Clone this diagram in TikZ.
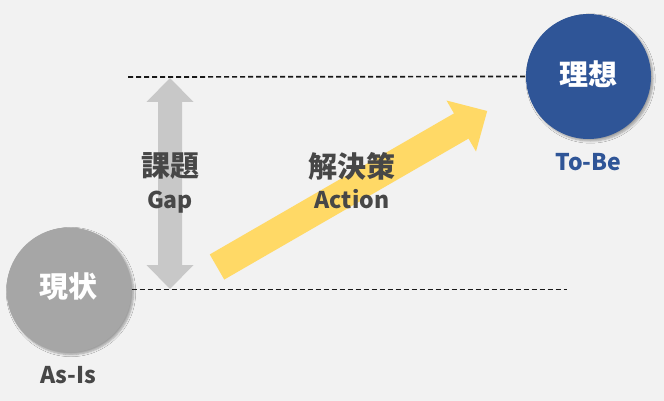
\documentclass[tikz,border=0pt]{standalone}
\usepackage{fontspec}
\setmainfont{Noto Sans CJK JP}
\usetikzlibrary{shadows.blur}
\definecolor{bgc}{HTML}{F2F2F2}
\definecolor{circgray}{HTML}{A6A6A6}
\definecolor{arrgray}{HTML}{C8C8C8}
\definecolor{yelc}{HTML}{FFD966}
\definecolor{bluec}{HTML}{2F5597}
\definecolor{txtc}{HTML}{474747}
\tikzset{
  statecirc/.style={circle, minimum size=125pt, inner sep=0pt, text=white,
    blur shadow={shadow xshift=2pt, shadow yshift=-2pt, shadow blur steps=6, shadow opacity=35}},
  cjklabel/.style={anchor=base, inner sep=0pt, font=\fontsize{29}{31}\selectfont\bfseries},
  latlabel/.style={anchor=base, inner sep=0pt, font=\fontsize{23}{25}\selectfont\bfseries},
  guide/.style={draw=black!90, line width=1.7pt, dash pattern=on 5pt off 3pt},
}
\begin{document}
\begin{tikzpicture}[x=1pt,y=-1pt]
\fill[bgc] (0,0) rectangle (664,401);
\useasboundingbox (0,0) rectangle (664,401);
% circles
\node[statecirc, fill=circgray] (asis) at (69,290) {};
\node[statecirc, fill=bluec] (tobe) at (588.5,76.5) {};
% circle texts
\node[cjklabel, text=white] (asisj) at (68.5,297.5) {現状};
\node[cjklabel, text=white] (tobej) at (588.5,85.5) {理想};
\node[latlabel, text=txtc] (asise) at (68.5,383) {As-Is};
\node[latlabel, text=bluec] (tobee) at (588.5,170.5) {To-Be};
% guide lines
\coordinate (topL) at (128,77);
\coordinate (botR) at (567,289.5);
\draw[guide] (topL) -- (tobe.west);
\draw[guide] (asis.east |- botR) -- (botR);
% gray double arrow (gap)
\fill[arrgray] (170,78) -- (193.5,102) -- (182,102) -- (182,265) -- (193.5,265)
  -- (170,289) -- (146.5,265) -- (158,265) -- (158,102) -- (146.5,102) -- cycle;
% yellow arrow (action)
\fill[yelc] (224.25,279.56) -- (468.5,138.6) -- (476,151.5) -- (487.2,111)
  -- (446.5,100.5) -- (454,113.4) -- (209.75,254.44) -- cycle;
% labels
\node[cjklabel, text=txtc] (gapj) at (170,176.5) {課題};
\node[latlabel, text=txtc] (gape) at (170,208.3) {Gap};
\node[cjklabel, text=txtc] (actj) at (352,177.5) {解決策};
\node[latlabel, text=txtc] (acte) at (352,208) {Action};
\end{tikzpicture}
\end{document}
